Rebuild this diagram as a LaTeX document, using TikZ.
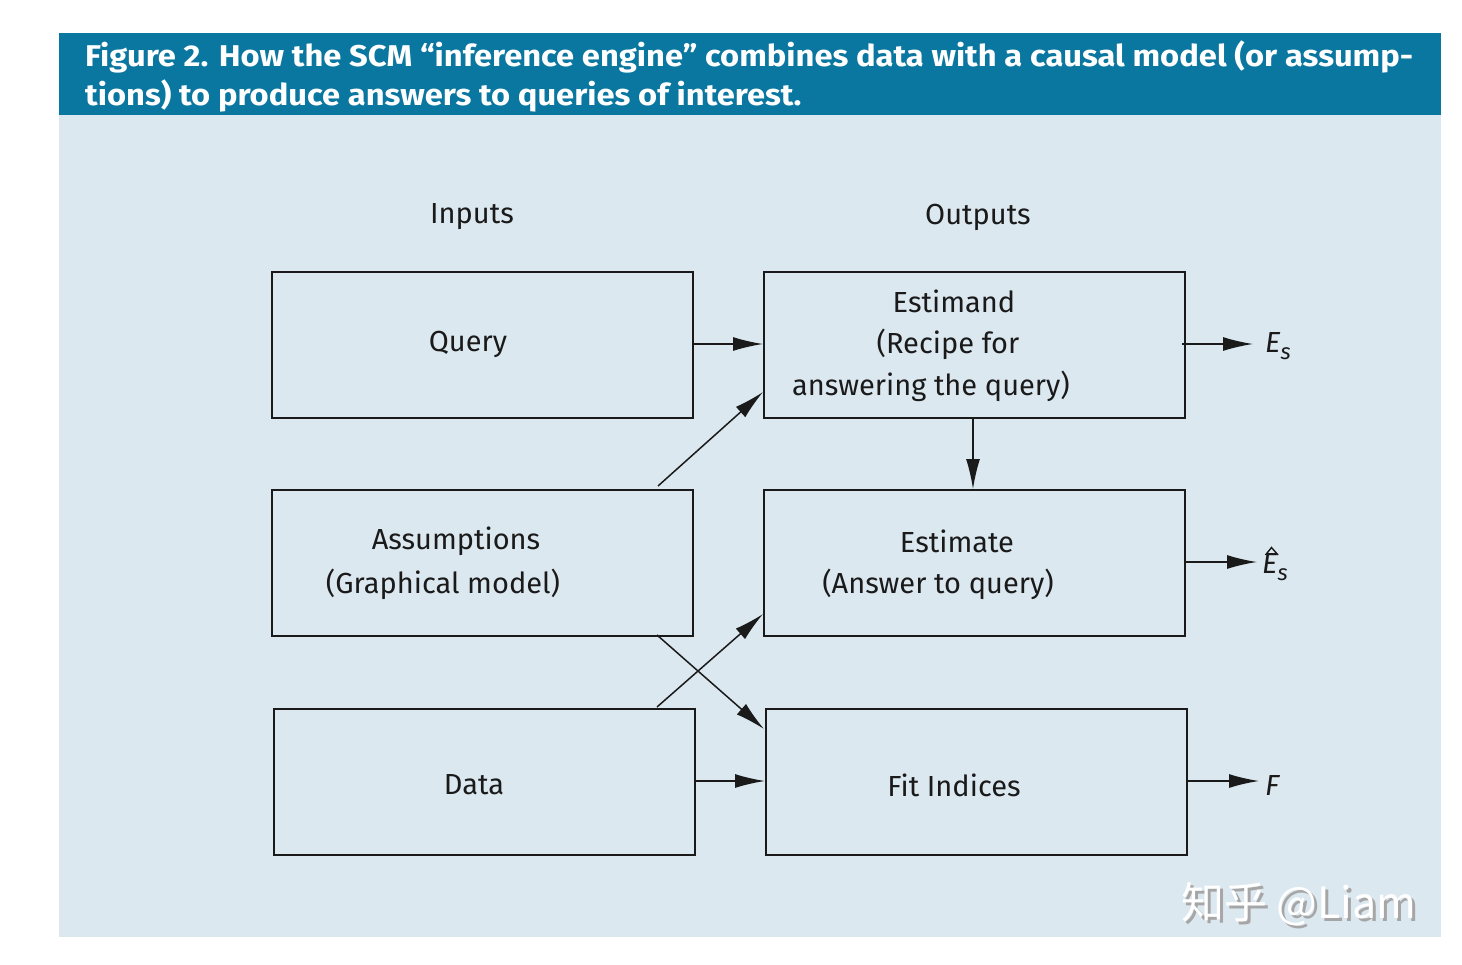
\documentclass[tikz,border=0pt]{standalone}
\usepackage{fontspec}
\setmainfont{Fira Sans}
\newfontfamily\cjk{Noto Sans CJK SC}
\newfontfamily\headfont[FakeStretch=1.09]{Fira Sans Bold}
\usetikzlibrary{arrows.meta}
\definecolor{panel}{HTML}{DCE8F0}
\definecolor{head}{HTML}{0A77A0}
\definecolor{ink}{HTML}{1A1A1A}
\begin{document}
\begin{tikzpicture}[x=1pt,y=-1pt,
  boxst/.style={draw=ink,line width=1.6pt,minimum width=421pt,minimum height=146pt,anchor=north west,inner sep=0pt},
  lbl/.style={text=ink,font=\fontsize{29}{34}\selectfont,inner sep=0pt},
  hd/.style={anchor=west,text=white,inner sep=0pt,font=\headfont\fontsize{30}{33}\selectfont},
  arr/.style={draw=ink,line width=1.5pt,-{Latex[length=30pt,width=14pt]}}]
\useasboundingbox (0,0) rectangle (1462,964);
\fill[white] (0,0) rectangle (1462,964);
\fill[panel] (59,33) rectangle (1441,937);
\fill[head] (59,33) rectangle (1441,115);
\node[hd] (h1) at (85,57) {Figure 2. How the SCM “inference engine” combines data with a causal model (or assump-};
\node[hd] (h2) at (85,96) {tions) to produce answers to queries of interest.};

\node[lbl] (inputs) at (472,217) {Inputs};
\node[lbl] (outputs) at (978,217) {Outputs};

% boxes
\node[boxst] (query) at (271,271) {};
\node[boxst] (assum) at (271,489) {};
\node[boxst] (data) at (273,708) {};
\node[boxst] (estimand) at (763,271) {};
\node[boxst] (estimate) at (763,489) {};
\node[boxst] (fit) at (765,708) {};

\node[lbl] (tq) at (468,344) {Query};
\node[lbl] (ta1) at (456,541) {Assumptions};
\node[lbl] (ta2) at (443,584) {(Graphical model)};
\node[lbl] (td) at (474,785) {Data};
\node[lbl] (te1) at (954,301) {Estimand};
\node[lbl] (te2) at (948,344) {(Recipe for};
\node[lbl] (te3) at (931,386) {answering the query)};
\node[lbl] (tt1) at (957,541) {Estimate};
\node[lbl] (tt2) at (938,584) {(Answer to query)};
\node[lbl] (tf) at (954,785) {Fit Indices};

% output labels
\node[lbl,anchor=west] (es) at (1265,346) {\itshape E\raisebox{-7pt}{\fontsize{22}{24}\selectfont s}};
\node[lbl,anchor=west] (hes) at (1262,567) {\itshape E\raisebox{-7pt}{\fontsize{22}{24}\selectfont s}};
\draw[ink,line width=1.4pt,line join=miter] (1265.5,555) .. controls (1268,552) .. (1271.5,547.5) .. controls (1275,552) .. (1278,555);
\node[lbl,anchor=west] (ff) at (1265,785) {\itshape F};

\coordinate (qa) at (692,344);
\coordinate (ea) at (763,344);
\draw[arr] (qa) -- (ea);
\coordinate (as1) at (658,486);
\coordinate (es1) at (763,392);
\draw[arr] (as1) -- (es1);
\coordinate (em1) at (973,419);
\coordinate (em2) at (973,489);
\draw[arr] (em1) -- (em2);
\coordinate (da1) at (657,707);
\coordinate (et1) at (763,614);
\draw[arr] (da1) -- (et1);
\coordinate (as2) at (657,635);
\coordinate (fi1) at (764,729);
\draw[arr] (as2) -- (fi1);
\coordinate (da2) at (694,781);
\coordinate (fi2) at (765,781);
\draw[arr] (da2) -- (fi2);
\coordinate (o1) at (1182,344);
\coordinate (o1e) at (1253,344);
\draw[arr] (o1) -- (o1e);
\coordinate (o2) at (1186,562);
\coordinate (o2e) at (1257,562);
\draw[arr] (o2) -- (o2e);
\coordinate (o3) at (1188,781);
\coordinate (o3e) at (1259,781);
\draw[arr] (o3) -- (o3e);

% watermark
\node[anchor=west,inner sep=0pt,text=gray!70,font=\cjk\fontsize{43}{46}\selectfont] (wms) at (1184,907) {知乎 @Liam};
\node[anchor=west,inner sep=0pt,text=white,font=\cjk\fontsize{43}{46}\selectfont] (wm) at (1181,904) {知乎 @Liam};
\end{tikzpicture}
\end{document}
